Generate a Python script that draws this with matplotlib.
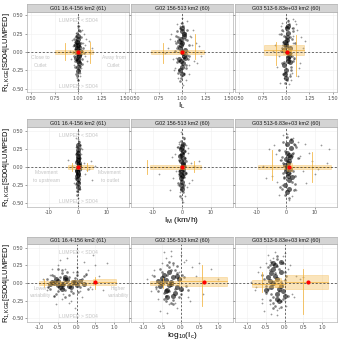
import matplotlib
matplotlib.use("Agg")
import matplotlib.pyplot as plt
from matplotlib.patches import Rectangle

plt.rcParams['font.family'] = ['Liberation Sans', 'DejaVu Sans']
plt.rcParams['mathtext.fontset'] = 'custom'
plt.rcParams['mathtext.rm'] = 'Liberation Sans'
plt.rcParams['mathtext.it'] = 'Liberation Sans'

# facet titles
groups = ['G01 16.4-156 km2 (61)', 'G02 156-513 km2 (60)', 'G03 513-6.83e+03 km2 (60)']

# row settings: x label, x limits, ticks, tick labels, reference x
xlabels = ['I$_L$', 'I$_M$ (km/h)', 'log$_{10}$(I$_c$)']
xlims = [(0.455, 1.545), (-17.6, 17.6), (-1.32, 1.40)]
xticks = [[0.5, 0.75, 1.0, 1.25, 1.5], [-10, 0, 10], [-1.0, -0.5, 0.0, 0.5, 1.0]]
xticklabels = [['0.50', '0.75', '1.00', '1.25', '1.50'], ['-10', '0', '10'],
               ['-1.0', '-0.5', '0.0', '0.5', '1.0']]
xref = [1.0, 0.0, 0.0]
yticks = [-0.5, -0.25, 0.0, 0.25, 0.5]
yticklabels = ['-0.50', '-0.25', '0.00', '0.25', '0.50']

# annotation texts per row (left, right)
side_txt = [('Close to\nOutlet', 'Away from\nOutlet'),
            ('Movement\nto upstream', 'Movement\nto outlet'),
            ('Lower\nvariability', 'Higher\nvariability')]
side_x = [(0.60, 1.38), (-11.0, 11.0), (-0.95, 1.12)]

# ---- scatter data, row 1 (I_L) ----
r1g1_cx = [1.00, 0.99, 1.01, 1.00, 0.98, 1.02, 1.00, 0.99, 1.01, 1.00, 1.00, 0.985, 1.015, 1.00, 0.995, 1.005, 1.00, 0.99, 1.01, 0.98]
r1g1_cy = [0.00, 0.05, -0.04, 0.10, -0.08, 0.02, -0.12, 0.14, -0.15, 0.18, -0.20, -0.02, 0.07, 0.22, -0.10, 0.12, -0.26, 0.03, -0.06, 0.09]
r1g1_mx = [0.97, 1.03, 0.96, 1.04, 0.98, 1.02, 0.97, 1.03, 0.99, 1.01, 0.96, 1.05, 0.98, 1.02, 0.97, 1.04, 0.99, 1.01, 0.95, 1.06, 0.98, 1.03, 0.97, 1.02, 1.00, 0.99, 1.01, 0.96, 1.04, 1.00]
r1g1_my = [0.04, -0.03, 0.10, -0.09, 0.16, -0.14, -0.20, 0.20, 0.26, -0.24, -0.05, 0.06, -0.30, 0.28, 0.13, -0.16, -0.11, 0.08, 0.00, -0.02, 0.22, 0.12, -0.12, -0.19, 0.35, -0.33, 0.30, 0.18, 0.02, -0.38]
r1g1_sx = [1.00, 1.00, 1.00, 1.00, 1.00, 1.00, 1.00, 1.00, 1.05, 1.08, 0.95, 1.12, 1.15, 0.93, 1.03, 1.06, 0.97, 1.10, 0.91, 1.04, 1.02, 0.96, 1.07, 1.01, 0.99, 1.13, 0.94, 1.09, 1.02, 0.98]
r1g1_sy = [0.48, 0.40, 0.33, 0.28, -0.30, -0.38, -0.45, -0.50, 0.12, -0.05, 0.08, 0.15, 0.05, -0.10, -0.22, 0.25, 0.20, -0.12, 0.02, 0.30, -0.32, -0.18, 0.10, 0.35, -0.35, -0.02, 0.16, 0.18, -0.28, 0.26]

r1g2_cx = [1.00, 0.98, 1.02, 1.00, 0.97, 1.03, 1.01, 0.99, 1.00, 1.02, 0.98, 1.00, 1.01, 0.99, 1.00, 1.03, 0.97, 1.00, 1.02, 0.99]
r1g2_cy = [0.00, 0.06, -0.05, 0.12, -0.10, 0.03, -0.15, 0.18, -0.20, 0.22, -0.25, 0.28, -0.02, 0.09, -0.30, -0.08, 0.15, 0.32, 0.25, -0.12]
r1g2_mx = [0.95, 1.05, 0.94, 1.06, 0.96, 1.04, 0.97, 1.03, 0.93, 1.07, 0.98, 1.02, 0.95, 1.05, 0.96, 1.04, 0.99, 1.01, 0.94, 1.08, 0.97, 1.03, 0.96, 1.05, 1.00, 0.98, 1.02, 0.95, 1.04, 1.00]
r1g2_my = [0.05, -0.04, 0.12, -0.10, 0.20, -0.18, -0.25, 0.26, 0.02, -0.06, 0.32, -0.30, -0.14, 0.16, 0.08, -0.22, -0.35, 0.36, 0.22, 0.10, -0.12, 0.18, -0.28, 0.30, 0.40, -0.40, -0.08, 0.28, -0.02, 0.14]
r1g2_sx = [0.85, 0.90, 1.10, 1.15, 1.20, 0.88, 0.93, 1.07, 1.12, 0.95, 1.05, 1.18, 0.82, 1.08, 0.92, 1.13, 1.04, 0.96, 1.00, 1.01, 0.99, 1.06, 0.94, 1.16, 0.87, 1.09, 1.02, 0.98, 1.11, 0.91]
r1g2_sy = [0.05, -0.10, 0.20, 0.12, -0.05, 0.25, -0.22, -0.18, 0.30, 0.38, 0.42, 0.08, -0.02, -0.30, 0.15, -0.12, -0.38, -0.35, 0.46, -0.45, 0.40, 0.02, -0.08, -0.15, 0.18, 0.22, -0.28, 0.35, 0.10, -0.25]

r1g3_cx = [1.01, 1.00, 1.03, 0.99, 1.02, 1.01, 0.98, 1.04, 1.00, 1.02, 1.01, 0.99, 1.03, 1.00, 1.02, 1.01, 0.98, 1.04, 1.00, 1.02]
r1g3_cy = [0.00, 0.08, -0.06, 0.14, -0.12, 0.20, -0.18, 0.05, -0.25, 0.26, 0.32, -0.30, -0.02, 0.11, -0.08, 0.17, 0.03, -0.14, -0.35, 0.36]
r1g3_mx = [0.96, 1.06, 0.97, 1.08, 0.98, 1.05, 0.99, 1.07, 0.95, 1.09, 1.00, 1.04, 0.96, 1.06, 0.97, 1.05, 1.01, 1.03, 0.95, 1.10, 0.98, 1.04, 0.97, 1.07, 1.02, 0.99, 1.03, 0.96, 1.05, 1.01]
r1g3_my = [0.06, -0.05, 0.14, -0.12, 0.22, -0.20, -0.28, 0.28, 0.02, -0.08, 0.34, -0.32, -0.15, 0.18, 0.10, -0.24, -0.38, 0.38, 0.24, 0.12, -0.14, 0.20, -0.30, 0.32, 0.42, -0.42, -0.08, 0.30, -0.02, 0.15]
r1g3_sx = [0.88, 0.92, 1.08, 1.12, 1.15, 0.95, 1.06, 1.18, 0.90, 1.10, 1.05, 0.97, 1.13, 1.20, 0.86, 1.09, 1.07, 0.94, 1.16, 1.03, 1.11, 0.96, 1.00, 1.04, 0.93, 1.14, 1.08, 0.98, 1.06, 1.02]
r1g3_sy = [0.10, -0.05, 0.22, 0.30, -0.15, 0.35, -0.28, 0.05, -0.20, 0.42, -0.38, 0.28, -0.32, 0.15, 0.02, -0.10, 0.45, -0.42, 0.20, -0.44, 0.38, 0.40, 0.46, -0.30, 0.25, -0.22, 0.12, -0.36, 0.33, 0.44]

# ---- scatter data, row 2 (I_M) ----
r2g1_cx = [0.0, 0.2, -0.2, 0.1, -0.1, 0.3, -0.3, 0.0, 0.1, -0.1, 0.0, 0.2, -0.2, 0.0, 0.1, -0.1, 0.0, 0.3, -0.3, 0.0]
r2g1_cy = [0.00, 0.05, -0.04, 0.10, -0.08, 0.02, -0.12, 0.15, -0.16, 0.20, -0.22, -0.02, 0.07, 0.24, 0.13, -0.10, -0.28, 0.03, -0.06, 0.30]
r2g1_mx = [0.3, -0.3, 0.5, -0.5, 0.2, -0.2, 0.4, -0.4, 0.6, -0.6, 0.1, -0.1, 0.3, -0.3, 0.8, -0.8, 0.2, -0.2, 0.5, -0.5, 0.0, 0.0, 0.1, -0.1, 0.4, -0.4, 0.7, -0.7, 0.2, -0.2]
r2g1_my = [0.04, -0.03, 0.10, -0.09, 0.16, -0.14, -0.20, 0.20, 0.26, -0.24, -0.05, 0.06, -0.30, 0.28, 0.13, -0.16, -0.11, 0.08, 0.00, -0.02, 0.22, 0.12, -0.12, -0.19, 0.35, -0.33, 0.30, 0.18, 0.02, -0.38]
r2g1_sx = [0.0, 0.0, 0.0, 0.0, 0.0, 0.0, 0.5, -0.5, 1.0, -1.0, 2.0, -2.0, 3.0, 4.5, 5.0, -3.5, 1.5, -1.5, 0.8, -0.8, 6.0, 2.5, 0.0, 0.4, -0.4, 0.0, 1.2, -0.6, 0.7, 3.8]
r2g1_sy = [0.45, 0.38, 0.50, -0.35, -0.42, -0.50, 0.12, -0.08, 0.18, -0.15, 0.05, 0.02, -0.04, 0.08, -0.18, 0.10, 0.25, -0.22, -0.30, 0.28, 0.02, -0.10, 0.33, 0.36, -0.33, -0.26, -0.02, 0.40, -0.12, -0.03]

r2g2_cx = [0.0, 0.3, -0.3, 0.2, -0.2, 0.5, -0.5, 0.1, -0.1, 0.4, -0.4, 0.0, 0.2, -0.2, 0.6, -0.6, 0.0, 0.3, -0.3, 0.1]
r2g2_cy = [0.00, 0.06, -0.05, 0.12, -0.10, 0.03, -0.15, 0.18, -0.20, 0.22, -0.25, 0.28, -0.02, 0.09, -0.08, 0.15, -0.30, 0.32, 0.25, -0.12]
r2g2_mx = [0.6, -0.6, 1.0, -1.0, 0.4, -0.4, 0.8, -0.8, 1.2, -1.2, 0.2, -0.2, 0.6, -0.6, 1.5, -1.5, 0.4, -0.4, 1.0, -1.0, 0.0, 0.0, 0.2, -0.2, 0.8, -0.8, 1.4, -1.4, 0.4, -0.4]
r2g2_my = [0.05, -0.04, 0.12, -0.10, 0.20, -0.18, -0.25, 0.26, 0.02, -0.06, 0.32, -0.30, -0.14, 0.16, 0.08, -0.22, -0.35, 0.36, 0.22, 0.10, -0.12, 0.18, -0.28, 0.30, 0.40, -0.40, -0.08, 0.28, -0.02, 0.14]
r2g2_sx = [1.0, -1.0, 2.0, -2.0, 1.5, -1.5, 3.0, -3.0, 0.8, -0.8, 2.5, -2.5, 4.0, -4.0, 0.0, 0.0, 1.2, -1.2, 6.0, -8.0, 0.5, -0.5, 2.2, -1.8, 0.3, -0.3, 3.5, -3.5, 1.8, -0.9]
r2g2_sy = [0.10, -0.12, 0.20, -0.05, 0.30, -0.25, 0.05, -0.15, 0.38, -0.35, -0.22, 0.18, 0.02, -0.32, 0.45, -0.45, -0.40, 0.35, 0.08, -0.10, 0.42, -0.42, 0.26, 0.28, -0.48, 0.48, -0.18, 0.14, -0.28, 0.32]

r2g3_cx = [0.5, 1.0, 0.0, 1.5, 0.8, 0.2, 1.2, 0.6, -0.2, 1.8, 0.4, 0.9, 1.4, 0.1, 0.7, 1.1, -0.4, 2.0, 0.3, 1.6]
r2g3_cy = [0.00, 0.08, -0.06, 0.14, -0.12, 0.20, -0.18, 0.05, -0.25, 0.26, 0.32, -0.30, -0.02, 0.11, -0.08, 0.17, 0.03, -0.14, -0.35, 0.36]
r2g3_mx = [-1.0, 2.5, -1.5, 3.0, -0.5, 2.0, -2.0, 3.5, 0.0, 1.5, -1.2, 2.8, -0.8, 2.2, -1.8, 3.2, -0.2, 1.8, -2.5, 4.0, -0.6, 2.4, -1.4, 2.6, 0.4, 1.2, -1.0, 3.0, -0.4, 2.0]
r2g3_my = [0.06, -0.05, 0.14, -0.12, 0.22, -0.20, -0.28, 0.28, 0.02, -0.08, 0.34, -0.32, -0.15, 0.18, 0.10, -0.24, -0.38, 0.38, 0.24, 0.12, -0.14, 0.20, -0.30, 0.32, 0.42, -0.42, -0.08, 0.30, -0.02, 0.15]
r2g3_sx = [-8.0, -6.0, -5.0, -4.0, -3.0, -2.0, 3.0, 4.0, 5.0, 6.0, 8.0, 10.0, 12.0, 14.0, 15.0, -2.5, 2.5, -1.0, 3.5, 7.0, -3.5, 9.0, 1.0, 0.5, -1.5, 2.0, 4.5, -7.0, 11.0, 6.5]
r2g3_sy = [0.02, 0.25, -0.12, 0.30, -0.20, 0.10, -0.30, 0.35, 0.15, -0.05, 0.20, -0.10, 0.30, 0.05, 0.25, -0.38, 0.40, 0.44, -0.32, -0.22, 0.18, 0.08, -0.45, 0.46, -0.25, -0.40, 0.12, -0.15, -0.02, 0.32]

# ---- scatter data, row 3 (log10 I_c) ----
r3g1_cx = [-0.6, -0.5, -0.4, -0.3, -0.2, -0.1, 0.0, -0.55, -0.45, -0.35, -0.25, -0.15, -0.05, -0.65, -0.7, 0.1, 0.2, -0.3, -0.4, -0.5]
r3g1_cy = [0.00, 0.03, -0.02, 0.05, -0.04, 0.02, -0.03, 0.06, -0.05, -0.01, 0.04, -0.06, 0.01, 0.02, -0.02, 0.03, -0.02, 0.08, -0.08, -0.03]
r3g1_mx = [-0.8, -0.7, -0.6, -0.5, -0.4, -0.3, -0.2, -0.1, 0.0, 0.1, 0.2, 0.3, -0.75, -0.65, -0.55, -0.45, -0.35, -0.25, -0.15, -0.05, 0.05, 0.15, 0.25, -0.6, -0.4, -0.2, 0.0, -0.5, -0.3, -0.1]
r3g1_my = [0.06, -0.08, 0.10, -0.12, 0.14, -0.10, 0.08, -0.14, 0.12, -0.06, 0.10, -0.09, -0.05, 0.12, -0.15, 0.09, -0.07, 0.15, -0.11, 0.07, -0.13, 0.05, 0.13, -0.18, 0.18, -0.17, 0.16, 0.20, -0.20, -0.02]
r3g1_sx = [-0.9, -0.8, -0.7, -0.6, -0.5, -0.4, -0.3, -0.2, -0.1, 0.0, 0.1, 0.2, 0.3, 0.4, 0.5, 0.6, 0.8, -0.55, -0.45, -0.35, -0.25, -0.15, 0.15, 0.25, 0.35, -0.65, -0.05, 0.45, 0.7, -0.75]
r3g1_sy = [0.05, -0.10, 0.12, -0.18, 0.25, -0.22, 0.20, -0.28, 0.15, 0.22, -0.12, 0.30, 0.18, -0.08, 0.25, 0.10, 0.28, -0.30, 0.32, -0.15, 0.35, -0.25, -0.20, 0.12, -0.05, 0.20, -0.35, 0.40, -0.10, -0.06]

r3g2_cx = [-0.5, -0.4, -0.3, -0.2, -0.1, -0.45, -0.35, -0.25, -0.15, -0.05, -0.55, -0.6, 0.0, -0.3, -0.2, -0.4, -0.1, -0.5, -0.25, -0.35]
r3g2_cy = [0.00, 0.04, -0.03, 0.08, -0.06, 0.12, -0.10, 0.02, -0.14, 0.06, -0.04, 0.03, -0.08, 0.15, -0.18, -0.12, 0.10, 0.07, -0.02, -0.20]
r3g2_mx = [-0.7, -0.6, -0.5, -0.4, -0.3, -0.2, -0.1, 0.0, 0.1, 0.2, -0.65, -0.55, -0.45, -0.35, -0.25, -0.15, -0.05, 0.05, 0.15, -0.5, -0.4, -0.3, -0.2, -0.1, -0.45, -0.35, -0.25, -0.15, -0.3, -0.2]
r3g2_my = [0.10, -0.12, 0.16, -0.18, 0.22, -0.24, 0.14, -0.16, 0.08, -0.10, -0.06, 0.20, -0.22, 0.26, -0.28, 0.18, -0.20, 0.12, -0.04, 0.04, -0.26, 0.30, -0.30, 0.24, -0.14, 0.12, 0.18, -0.08, -0.12, 0.28]
r3g2_sx = [-0.9, -0.8, -0.7, -0.6, -0.5, -0.4, -0.3, -0.2, -0.1, 0.0, 0.1, 0.2, 0.3, 0.4, 0.6, 0.8, 1.0, -0.55, -0.45, -0.35, -0.25, -0.15, 0.05, -0.05, 0.15, -0.65, 0.25, 0.5, -0.75, -0.25]
r3g2_sy = [0.05, -0.12, 0.18, -0.22, 0.28, 0.35, -0.30, 0.25, -0.35, 0.40, 0.30, -0.20, 0.22, 0.10, -0.15, 0.20, 0.05, -0.40, 0.44, -0.42, 0.38, -0.28, -0.10, 0.15, 0.32, -0.08, -0.25, 0.28, 0.12, 0.46]

r3g3_cx = [-0.3, -0.2, -0.1, -0.25, -0.15, -0.35, -0.05, -0.4, 0.0, -0.3, -0.2, -0.1, -0.25, -0.15, -0.35, -0.45, -0.2, -0.3, -0.1, -0.5]
r3g3_cy = [0.00, 0.05, -0.04, 0.10, -0.08, 0.14, -0.12, 0.03, -0.18, 0.20, -0.22, 0.16, 0.25, -0.26, -0.06, 0.08, -0.15, 0.28, 0.30, -0.10]
r3g3_mx = [-0.6, -0.5, -0.4, -0.3, -0.2, -0.1, 0.0, 0.1, -0.55, -0.45, -0.35, -0.25, -0.15, -0.05, 0.05, -0.5, -0.4, -0.3, -0.2, -0.1, 0.0, -0.45, -0.35, -0.25, -0.15, -0.05, -0.3, -0.2, -0.4, -0.1]
r3g3_my = [0.12, -0.14, 0.18, -0.20, 0.24, -0.26, 0.16, -0.18, 0.06, -0.08, 0.30, -0.32, 0.20, -0.22, 0.10, -0.04, 0.26, -0.28, 0.34, -0.34, 0.04, 0.22, -0.16, 0.14, -0.12, 0.28, -0.36, 0.38, -0.24, 0.02]
r3g3_sx = [-0.9, -0.8, -0.7, -0.6, -0.5, -0.4, -0.3, -0.2, -0.1, 0.0, 0.1, 0.2, 0.3, 0.4, -0.55, -0.45, -0.35, -0.25, -0.15, -0.05, 0.05, 0.15, -0.65, -0.75, 0.25, 0.5, -0.6, -0.4, -0.2, 0.0]
r3g3_sy = [0.02, -0.10, 0.15, -0.22, 0.28, -0.30, 0.35, -0.38, 0.30, -0.25, 0.20, -0.15, 0.10, 0.05, -0.40, 0.40, -0.44, 0.44, -0.35, 0.38, -0.32, 0.25, 0.22, -0.05, -0.20, 0.08, -0.28, 0.32, -0.45, 0.42]

core = [[(r1g1_cx, r1g1_cy), (r1g2_cx, r1g2_cy), (r1g3_cx, r1g3_cy)],
        [(r2g1_cx, r2g1_cy), (r2g2_cx, r2g2_cy), (r2g3_cx, r2g3_cy)],
        [(r3g1_cx, r3g1_cy), (r3g2_cx, r3g2_cy), (r3g3_cx, r3g3_cy)]]
mid = [[(r1g1_mx, r1g1_my), (r1g2_mx, r1g2_my), (r1g3_mx, r1g3_my)],
       [(r2g1_mx, r2g1_my), (r2g2_mx, r2g2_my), (r2g3_mx, r2g3_my)],
       [(r3g1_mx, r3g1_my), (r3g2_mx, r3g2_my), (r3g3_mx, r3g3_my)]]
spread = [[(r1g1_sx, r1g1_sy), (r1g2_sx, r1g2_sy), (r1g3_sx, r1g3_sy)],
          [(r2g1_sx, r2g1_sy), (r2g2_sx, r2g2_sy), (r2g3_sx, r2g3_sy)],
          [(r3g1_sx, r3g1_sy), (r3g2_sx, r3g2_sy), (r3g3_sx, r3g3_sy)]]

# summary boxes (x0, x1, y0, y1), vertical ranges (x, y0, y1), median point
boxes = [[[(0.75, 1.16, -0.03, 0.03), (0.95, 1.05, -0.02, 0.02)],
          [(0.665, 1.235, -0.03, 0.03), (0.97, 1.03, -0.02, 0.02)],
          [(0.77, 1.195, -0.045, 0.09), (0.97, 1.05, -0.03, 0.05)]],
         [[(-3.5, 5.2, -0.025, 0.025), (-0.5, 0.5, -0.02, 0.02)],
          [(-11.0, 6.5, -0.03, 0.03), (-0.5, 0.8, -0.02, 0.02)],
          [(-9.7, 15.5, -0.03, 0.035), (0.3, 2.0, -0.05, 0.05)]],
         [[(-1.0, -0.45, -0.03, 0.03), (-0.45, -0.15, -0.03, 0.03), (-0.15, 0.45, -0.03, 0.04), (0.45, 1.05, -0.03, 0.05)],
          [(-0.81, -0.05, -0.03, 0.03), (-0.05, 1.23, -0.043, 0.086)],
          [(-0.875, 0.0, -0.057, 0.04), (0.0, 1.15, -0.08, 0.12), (-0.25, -0.1, -0.057, 0.07)]]]
vsegs = [[[(0.86, -0.11, 0.12), (1.13, -0.155, 0.14)],
          [(0.80, -0.155, 0.12), (1.14, -0.09, 0.25)],
          [(0.89, -0.18, 0.14), (1.11, -0.32, 0.23)]],
         [[(-2.0, -0.05, 0.05), (3.0, -0.06, 0.06)],
          [(-12.0, -0.10, 0.10), (4.0, -0.07, 0.08)],
          [(-4.9, -0.18, 0.23), (8.9, -0.21, 0.21)]],
         [[(-0.88, -0.06, 0.06), (0.5, -0.09, 0.09)],
          [(-0.46, -0.076, 0.067), (0.56, -0.32, 0.25)],
          [(-0.61, -0.13, 0.16), (0.5, -0.44, 0.20)]]]
med_x = [[1.0, 1.0, 1.01], [0.0, 0.0, 0.9], [0.5, 0.63, 0.63]]
med_y = [[0.0, 0.0, 0.0], [0.0, 0.0, 0.0], [0.015, 0.015, 0.015]]

W, H = 340, 342
fig = plt.figure(figsize=(W / 100, H / 100), dpi=100)

panel_x = [(27, 129), (131, 233), (235, 337)]
panel_y = [(11.6, 92.4), (127.1, 207.0), (244.2, 321.8)]
strip_h = 7.6
orange = '#F2B33D'

for r in range(3):
    y0p, y1p = panel_y[r]
    for c in range(3):
        x0p, x1p = panel_x[c]
        ax = fig.add_axes([x0p / W, 1 - y1p / H, (x1p - x0p) / W, (y1p - y0p) / H])
        ax.set_xlim(*xlims[r])
        ax.set_ylim(-0.55, 0.55)
        ax.grid(True, color='#F0F0F0', lw=0.4, zorder=0)
        ax.set_axisbelow(True)
        for s in ax.spines.values():
            s.set_color('#B3B3B3')
            s.set_linewidth(0.5)

        sx, sy = spread[r][c]
        ax.scatter(sx, sy, s=1.6, color='black', alpha=0.4, lw=0, zorder=2)
        mx, my = mid[r][c]
        ax.scatter(mx, my, s=3.5, color='black', alpha=0.5, lw=0, zorder=2)
        cx, cy = core[r][c]
        ax.scatter(cx, cy, s=13, color='black', alpha=0.6, lw=0, zorder=2)

        for (bx0, bx1, by0, by1) in boxes[r][c]:
            ax.add_patch(Rectangle((bx0, by0), bx1 - bx0, by1 - by0, facecolor=orange,
                                   alpha=0.35, edgecolor=orange, lw=0.6, zorder=3))
            ax.plot([bx0, bx1], [0.5 * (by0 + by1)] * 2, color=orange, lw=0.5, zorder=3)
        for (vx, vy0, vy1) in vsegs[r][c]:
            ax.plot([vx, vx], [vy0, vy1], color=orange, lw=0.6, alpha=0.9, zorder=3)

        ax.axhline(0, color='#333333', ls=(0, (3, 2.5)), lw=0.5, zorder=4)
        ax.axvline(xref[r], color='#333333', ls=(0, (3, 2.5)), lw=0.5, zorder=4)
        ax.scatter([med_x[r][c]], [med_y[r][c]], s=9, color='red', lw=0, zorder=5)

        ax.set_xticks(xticks[r])
        ax.set_xticklabels(xticklabels[r])
        ax.set_yticks(yticks)
        if c == 0:
            ax.set_yticklabels(yticklabels)
        else:
            ax.set_yticklabels([])
        ax.tick_params(labelsize=3.8, length=1.5, width=0.4, color='#555555',
                       labelcolor='#4D4D4D', pad=1)

        if c == 0:
            xm = 0.5 * (xlims[r][0] + xlims[r][1])
            ax.text(xm, 0.43, 'LUMPED < SD04', fontsize=3.6, color='#C4C4C4',
                    ha='center', va='center', zorder=6)
            ax.text(xm, -0.47, 'LUMPED > SD04', fontsize=3.6, color='#C4C4C4',
                    ha='center', va='center', zorder=6)
            ax.text(side_x[r][0], -0.13, side_txt[r][0], fontsize=3.6, color='#C4C4C4',
                    ha='center', va='center', linespacing=1.6, zorder=6)
            ax.text(side_x[r][1], -0.13, side_txt[r][1], fontsize=3.6, color='#C4C4C4',
                    ha='center', va='center', linespacing=1.6, zorder=6)

        # facet strip
        sax = fig.add_axes([x0p / W, 1 - y0p / H, (x1p - x0p) / W, strip_h / H])
        sax.set_facecolor('#D4D4D4')
        sax.set_xticks([])
        sax.set_yticks([])
        for s in sax.spines.values():
            s.set_color('#B3B3B3')
            s.set_linewidth(0.5)
        sax.text(0.5, 0.45, groups[c], fontsize=3.9, color='#1A1A1A',
                 ha='center', va='center', transform=sax.transAxes)

    fig.text(182 / W, 1 - (y1p + 8.5) / H, xlabels[r], fontsize=6, ha='center', va='top')
    fig.text(6.5 / W, 1 - 0.5 * (y0p + y1p) / H, 'R$_{1,KGE}$[SD04|LUMPED]', fontsize=5.4,
             rotation=90, ha='center', va='center')

fig.savefig('out.png', dpi=100)
